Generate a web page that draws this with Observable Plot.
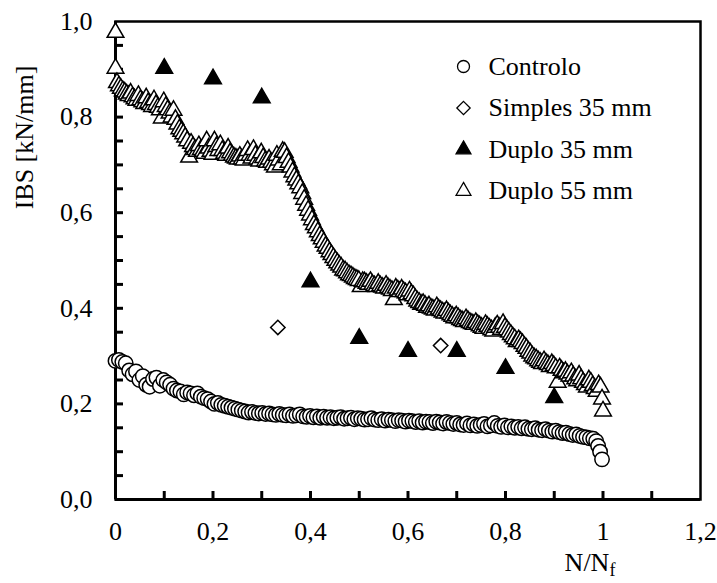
<!DOCTYPE html>
<html>
<head>
<meta charset="utf-8">
<script src="https://cdn.jsdelivr.net/npm/d3@7"></script>
<script src="https://cdn.jsdelivr.net/npm/@observablehq/plot@0.6"></script>
<style>
  body { margin: 0; background: white; }
  #chart { position: relative; width: 717px; height: 583px; }
  #chart svg, #chart svg text { font-family: "Liberation Serif", serif; }
</style>
</head>
<body>
<div id="chart"></div>
<script>
// ---- Data ----
const controlo = [
[0.000,0.290],[0.007,0.292],[0.014,0.288],[0.021,0.285],[0.028,0.270],[0.035,0.262],[0.042,0.268],[0.049,0.250],
[0.056,0.258],[0.063,0.240],[0.070,0.236],[0.077,0.252],[0.084,0.255],[0.091,0.238],[0.098,0.250],[0.105,0.245],
[0.112,0.240],[0.119,0.232],[0.126,0.228],[0.133,0.226],[0.140,0.220],[0.147,0.224],[0.154,0.222],[0.161,0.218],
[0.168,0.222],[0.175,0.215],[0.182,0.212],[0.189,0.210],[0.196,0.205],[0.203,0.200],[0.210,0.202],[0.217,0.198],
[0.224,0.196],[0.231,0.194],[0.238,0.192],[0.245,0.190],[0.252,0.188],[0.259,0.186],[0.266,0.184],[0.273,0.182],
[0.280,0.183],[0.287,0.181],[0.294,0.180],[0.301,0.181],[0.308,0.179],[0.315,0.180],[0.322,0.178],[0.329,0.177],
[0.336,0.179],[0.343,0.177],[0.350,0.176],[0.357,0.178],[0.364,0.175],[0.371,0.176],[0.378,0.178],[0.385,0.174],
[0.392,0.173],[0.399,0.175],[0.406,0.172],[0.413,0.174],[0.420,0.171],[0.427,0.173],[0.434,0.171],[0.441,0.172],
[0.448,0.170],[0.455,0.171],[0.462,0.172],[0.469,0.169],[0.476,0.170],[0.483,0.171],[0.490,0.168],[0.497,0.170],
[0.504,0.169],[0.511,0.167],[0.518,0.168],[0.525,0.170],[0.532,0.167],[0.539,0.166],[0.546,0.168],[0.553,0.165],
[0.560,0.167],[0.567,0.166],[0.574,0.164],[0.581,0.166],[0.588,0.165],[0.595,0.163],[0.602,0.165],[0.609,0.164],
[0.616,0.162],[0.623,0.164],[0.630,0.161],[0.637,0.163],[0.644,0.162],[0.651,0.160],[0.658,0.163],[0.665,0.161],
[0.672,0.159],[0.679,0.162],[0.686,0.160],[0.693,0.158],[0.700,0.160],[0.707,0.157],[0.714,0.156],[0.721,0.159],
[0.728,0.155],[0.735,0.157],[0.742,0.154],[0.749,0.156],[0.756,0.158],[0.763,0.153],[0.770,0.155],[0.777,0.160],
[0.784,0.154],[0.791,0.152],[0.798,0.155],[0.805,0.151],[0.812,0.153],[0.819,0.150],[0.826,0.152],[0.833,0.149],
[0.840,0.151],[0.847,0.148],[0.854,0.147],[0.861,0.149],[0.868,0.146],[0.875,0.145],[0.882,0.147],[0.889,0.144],
[0.896,0.142],[0.903,0.144],[0.910,0.141],[0.917,0.139],[0.924,0.140],[0.931,0.137],[0.938,0.135],[0.945,0.136],
[0.952,0.133],[0.959,0.131],[0.966,0.130],[0.973,0.128],[0.980,0.127],[0.986,0.122],[0.990,0.112],[0.994,0.100],
[0.998,0.084]
];
const simples35 = [[0.333,0.360],[0.667,0.322]];
const duplo35 = [[0.1,0.902],[0.2,0.880],[0.3,0.840],[0.4,0.455],[0.5,0.337],[0.6,0.310],[0.7,0.310],[0.8,0.274],[0.9,0.213]];
const duplo55 = [
[0.000,0.977],[0.000,0.902],[0.003,0.872],[0.007,0.865],[0.011,0.860],[0.015,0.855],[0.019,0.852],[0.023,0.848],
[0.027,0.845],[0.031,0.850],[0.035,0.842],[0.039,0.838],[0.043,0.835],[0.047,0.845],[0.051,0.836],[0.055,0.832],
[0.059,0.828],[0.063,0.840],[0.067,0.830],[0.071,0.826],[0.075,0.822],[0.079,0.836],[0.083,0.826],[0.087,0.820],
[0.091,0.815],[0.095,0.798],[0.099,0.832],[0.103,0.822],[0.107,0.815],[0.111,0.808],[0.115,0.800],[0.119,0.814],
[0.123,0.795],[0.127,0.785],[0.131,0.775],[0.135,0.770],[0.139,0.765],[0.143,0.758],[0.147,0.750],[0.151,0.716],
[0.155,0.745],[0.159,0.738],[0.163,0.732],[0.167,0.728],[0.171,0.740],[0.175,0.732],[0.179,0.728],[0.183,0.724],
[0.187,0.750],[0.191,0.735],[0.195,0.728],[0.199,0.722],[0.203,0.750],[0.207,0.738],[0.211,0.730],[0.215,0.742],
[0.219,0.730],[0.223,0.724],[0.227,0.720],[0.231,0.735],[0.235,0.725],[0.239,0.720],[0.243,0.716],[0.247,0.714],
[0.251,0.712],[0.255,0.718],[0.259,0.712],[0.263,0.710],[0.267,0.720],[0.271,0.730],[0.275,0.720],[0.279,0.714],
[0.283,0.732],[0.287,0.720],[0.291,0.712],[0.295,0.708],[0.299,0.725],[0.303,0.715],[0.307,0.708],[0.311,0.705],
[0.315,0.712],[0.319,0.705],[0.323,0.700],[0.327,0.695],[0.331,0.720],[0.335,0.710],[0.339,0.700],[0.343,0.728],
[0.347,0.726],[0.351,0.715],[0.355,0.705],[0.359,0.695],[0.363,0.685],[0.367,0.675],[0.371,0.668],[0.375,0.660],
[0.379,0.652],[0.383,0.640],[0.387,0.628],[0.391,0.615],[0.395,0.605],[0.399,0.595],[0.403,0.585],[0.407,0.575],
[0.411,0.568],[0.415,0.560],[0.419,0.552],[0.423,0.545],[0.427,0.538],[0.431,0.530],[0.435,0.525],[0.439,0.518],
[0.443,0.512],[0.447,0.506],[0.451,0.500],[0.455,0.495],[0.459,0.490],[0.463,0.486],[0.467,0.480],[0.471,0.478],
[0.475,0.474],[0.479,0.470],[0.483,0.468],[0.487,0.465],[0.491,0.462],[0.495,0.460],[0.499,0.458],[0.503,0.445],
[0.507,0.456],[0.511,0.455],[0.515,0.452],[0.519,0.450],[0.523,0.456],[0.527,0.450],[0.531,0.447],[0.535,0.445],
[0.539,0.452],[0.543,0.447],[0.547,0.444],[0.551,0.442],[0.555,0.448],[0.559,0.443],[0.563,0.440],[0.567,0.437],
[0.571,0.418],[0.575,0.442],[0.579,0.438],[0.583,0.435],[0.587,0.440],[0.591,0.435],[0.595,0.432],[0.599,0.428],
[0.603,0.436],[0.607,0.430],[0.611,0.426],[0.615,0.420],[0.619,0.415],[0.623,0.412],[0.627,0.408],[0.631,0.410],
[0.635,0.406],[0.639,0.402],[0.643,0.405],[0.647,0.400],[0.651,0.398],[0.655,0.396],[0.659,0.403],[0.663,0.398],
[0.667,0.395],[0.671,0.392],[0.675,0.390],[0.679,0.395],[0.683,0.390],[0.687,0.386],[0.691,0.383],[0.695,0.380],
[0.699,0.384],[0.703,0.380],[0.707,0.376],[0.711,0.374],[0.715,0.372],[0.719,0.378],[0.723,0.374],[0.727,0.370],
[0.731,0.368],[0.735,0.366],[0.739,0.370],[0.743,0.366],[0.747,0.363],[0.751,0.360],[0.755,0.358],[0.759,0.366],
[0.763,0.362],[0.767,0.358],[0.771,0.355],[0.775,0.352],[0.779,0.360],[0.783,0.365],[0.787,0.360],[0.791,0.356],
[0.795,0.368],[0.799,0.360],[0.803,0.355],[0.807,0.350],[0.811,0.345],[0.815,0.340],[0.819,0.336],[0.823,0.330],
[0.827,0.334],[0.831,0.330],[0.835,0.326],[0.839,0.320],[0.843,0.316],[0.847,0.310],[0.851,0.306],[0.855,0.300],
[0.859,0.296],[0.863,0.294],[0.867,0.290],[0.871,0.287],[0.875,0.284],[0.879,0.290],[0.883,0.285],[0.887,0.282],
[0.891,0.278],[0.895,0.284],[0.899,0.280],[0.903,0.275],[0.907,0.245],[0.911,0.275],[0.915,0.270],[0.919,0.265],
[0.923,0.268],[0.927,0.262],[0.931,0.258],[0.935,0.265],[0.939,0.258],[0.943,0.252],[0.947,0.248],[0.951,0.260],
[0.955,0.252],[0.959,0.245],[0.963,0.240],[0.967,0.235],[0.971,0.250],[0.975,0.245],[0.979,0.238],[0.983,0.232],
[0.987,0.226],[0.991,0.240],[0.995,0.235],[0.998,0.210],[1.000,0.185]
];

const xMajorTicks = [0, 0.2, 0.4, 0.6, 0.8, 1, 1.2];
const xMinorTicks = [0.1, 0.2, 0.3, 0.4, 0.5, 0.6, 0.7, 0.8, 0.9, 1.0, 1.1];
const yMajorTicks = [0, 0.2, 0.4, 0.6, 0.8, 1.0];
const yMinorTicks = [0.05, 0.1, 0.15, 0.2, 0.25, 0.3, 0.35, 0.4, 0.45, 0.5, 0.55, 0.6, 0.65, 0.7, 0.75, 0.8, 0.85, 0.9, 0.95];

const seriesNames = ["Controlo", "Simples 35 mm", "Duplo 35 mm", "Duplo 55 mm"];
const seriesSymbols = ["circle", "diamond2", "triangle", "triangle"];
const seriesFills = ["white", "white", "black", "white"];
const legendItems = seriesNames.map((name, i) => ({name, symbol: seriesSymbols[i], fill: seriesFills[i]}));

const FONT = "Liberation Serif";
const W = 717, H = 583, ML = 115, MR = 17, MT = 21, MB = 84;
const TICK = 8;
const fmtY = d => d.toFixed(1).replace(".", ",");
const fmtX = d => String(+d.toFixed(1)).replace(".", ",");

const legendMarks = legendItems.flatMap((d, i) => [
  Plot.dot([d], {frameAnchor: "top-left", dx: 348, dy: 45 + i * 41.5, symbol: d.symbol, r: d.symbol === "triangle" ? 5.5 : 6, fill: d.fill, stroke: "black", strokeWidth: 1.3}),
  Plot.text([d.name], {frameAnchor: "top-left", dx: 373, dy: 45 + i * 41.5, textAnchor: "start", lineAnchor: "middle", fontSize: 26, fontFamily: FONT, fill: "black"})
]);

const chart = Plot.plot({
  width: W,
  height: H,
  marginLeft: ML,
  marginRight: MR,
  marginTop: MT,
  marginBottom: MB,
  style: {fontFamily: FONT, fontSize: "26px", color: "black", background: "white"},
  x: {domain: [0, 1.2], label: null},
  y: {domain: [0, 1.0], label: null},
  marks: [
    Plot.frame({stroke: "black", strokeWidth: 2.5}),
    // inward minor tick marks
    Plot.tickX(xMinorTicks, {x: d => d, stroke: "black", strokeWidth: 3, insetTop: (H - MT - MB) - TICK}),
    Plot.tickY(yMinorTicks, {y: d => d, stroke: "black", strokeWidth: 3, insetRight: (W - ML - MR) - TICK}),
    // labels
    Plot.axisX({ticks: xMajorTicks, tickSize: 0, tickPadding: 22, tickFormat: fmtX, fontSize: 26, fontFamily: FONT, label: null}),
    Plot.axisY({ticks: yMajorTicks, tickSize: 0, tickPadding: 23, tickFormat: fmtY, fontSize: 26, fontFamily: FONT, label: null}),
    Plot.ruleX([0], {stroke: "black", strokeWidth: 3}),
    Plot.ruleY([0], {stroke: "black", strokeWidth: 3}),
    Plot.dot(controlo, {x: d => d[0], y: d => d[1], r: 7.2, symbol: "circle", fill: "white", stroke: "black", strokeWidth: 1.5}),
    Plot.dot(simples35, {x: d => d[0], y: d => d[1], r: 6.5, symbol: "diamond2", fill: "white", stroke: "black", strokeWidth: 1.5}),
    Plot.dot(duplo35, {x: d => d[0], y: d => d[1], r: 6.2, symbol: "triangle", fill: "black", stroke: "black", strokeWidth: 1.5}),
    Plot.dot(duplo55, {x: d => d[0], y: d => d[1], r: 6.2, symbol: "triangle", fill: "white", stroke: "black", strokeWidth: 1.5}),
    Plot.text(["IBS [kN/mm]"], {frameAnchor: "top-left", dx: -91, dy: 116, rotate: -90, textAnchor: "middle", lineAnchor: "middle", fontSize: 26, fontFamily: FONT, fill: "black"}),
    ...legendMarks
  ]
});

// x-axis title with subscript
const svg = d3.select(chart);
const t = svg.append("text")
  .attr("x", 590).attr("y", 571)
  .attr("font-size", 26).attr("fill", "black")
  .attr("font-family", FONT);
t.append("tspan").text("N/N");
t.append("tspan").attr("font-size", 18).attr("dy", 5).text("f");

document.getElementById("chart").appendChild(chart);
</script>
</body>
</html>
